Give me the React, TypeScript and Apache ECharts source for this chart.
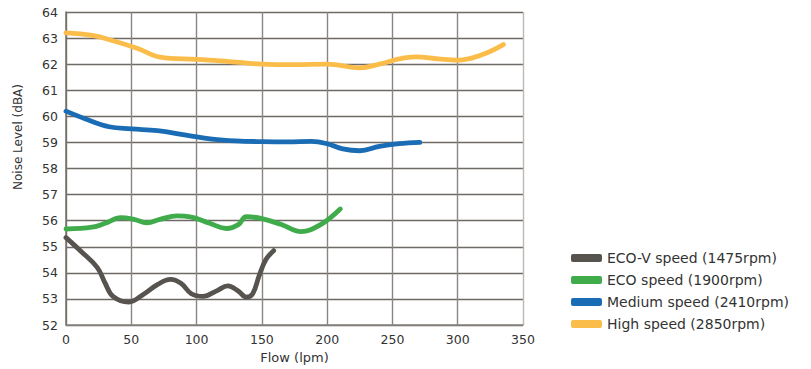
import React, { useEffect, useRef } from "react";
import * as echarts from "echarts";

const seriesNames = [
  "ECO-V speed (1475rpm)",
  "ECO speed (1900rpm)",
  "Medium speed (2410rpm)",
  "High speed (2850rpm)",
];
const colors = ["#57534f", "#3fab4a", "#1a6db4", "#fbbd4a"];

const ecoV: [number, number][] = [
  [0, 55.35], [12, 54.8], [24, 54.2], [30, 53.6], [36, 53.1], [48, 52.88],
  [60, 53.2], [70, 53.55], [80, 53.75], [88, 53.6], [96, 53.2], [105, 53.1],
  [115, 53.3], [124, 53.5], [132, 53.3], [138, 53.07], [143, 53.2], [148, 53.9],
  [153, 54.5], [159, 54.85],
];
const eco: [number, number][] = [
  [0, 55.68], [20, 55.75], [30, 55.9], [42, 56.12], [52, 56.05], [62, 55.92],
  [72, 56.05], [85, 56.18], [95, 56.15], [110, 55.9], [123, 55.7], [132, 55.85],
  [138, 56.15], [150, 56.08], [165, 55.85], [180, 55.58], [195, 55.85], [210, 56.45],
];
const medium: [number, number][] = [
  [0, 60.2], [15, 59.9], [33, 59.6], [50, 59.52], [70, 59.45], [92, 59.28],
  [112, 59.13], [130, 59.06], [150, 59.03], [170, 59.02], [188, 59.04], [200, 58.95],
  [212, 58.75], [225, 58.68], [240, 58.85], [255, 58.95], [271, 59.0],
];
const high: [number, number][] = [
  [0, 63.2], [20, 63.1], [36, 62.9], [55, 62.6], [72, 62.27], [100, 62.18],
  [125, 62.1], [150, 62.0], [175, 61.98], [200, 62.0], [225, 61.86], [240, 62.0],
  [255, 62.2], [268, 62.28], [285, 62.2], [300, 62.15], [318, 62.35], [335, 62.75],
];
const allData = [ecoV, eco, medium, high];

const font = "'DejaVu Sans', 'Open Sans', sans-serif";
const xGridColors = ["#77726d", "#8a8580", "#8a8580", "#8a8580", "#8a8580", "#8a8580", "#8a8580", "#bdb9b5"];

export default function App() {
  const ref = useRef<HTMLDivElement>(null);
  useEffect(() => {
    if (!ref.current) return;
    const chart = echarts.init(ref.current, undefined, { renderer: "svg" });
    chart.setOption({
      animation: false,
      textStyle: { fontFamily: font },
      grid: { left: 66, right: 288, top: 12, bottom: 44, outerBoundsMode: "none" },
      legend: {
        orient: "vertical",
        left: 566,
        top: 246,
        itemWidth: 31,
        itemHeight: 8,
        itemGap: 8,
        icon: "roundRect",
        textStyle: { fontSize: 14, color: "#333", fontFamily: font },
        data: seriesNames,
      },
      graphic: [
        {
          type: "text",
          x: 18,
          y: 137,
          rotation: Math.PI / 2,
          style: {
            text: "Noise Level (dBA)",
            fontSize: 12,
            fill: "#333",
            fontFamily: font,
            align: "center",
            verticalAlign: "middle",
          },
        },
      ],
      xAxis: {
        type: "value",
        min: 0,
        max: 350,
        interval: 50,
        name: "Flow (lpm)",
        nameLocation: "middle",
        nameGap: 26,
        nameTextStyle: { fontSize: 13, color: "#333" },
        axisLine: { show: true, lineStyle: { color: "#8a8580", width: 1.5 } },
        axisTick: { show: false },
        axisLabel: { fontSize: 12.5, color: "#333", margin: 8 },
        splitLine: { show: true, lineStyle: { color: xGridColors, width: 1.4 } },
      },
      yAxis: {
        type: "value",
        min: 52,
        max: 64,
        interval: 1,
        axisLine: { show: true, lineStyle: { color: "#77726d", width: 1.5 } },
        axisTick: { show: false },
        axisLabel: { fontSize: 12.5, color: "#333", margin: 8, padding: [4, 0, 0, 0] },
        splitLine: { show: true, lineStyle: { color: "#6e6a66", width: 1.3 } },
      },
      series: seriesNames.map((n, i) => ({
        name: n,
        type: "line",
        data: allData[i],
        smooth: 0.4,
        showSymbol: false,
        symbol: "none",
        color: colors[i],
        lineStyle: { width: 4.8, color: colors[i], cap: "round" },
      })),
    });
    return () => chart.dispose();
  }, []);
  return (
    <div
      ref={ref}
      style={{ position: "absolute", left: 0, top: 0, width: 811, height: 369 }}
    />
  );
}
